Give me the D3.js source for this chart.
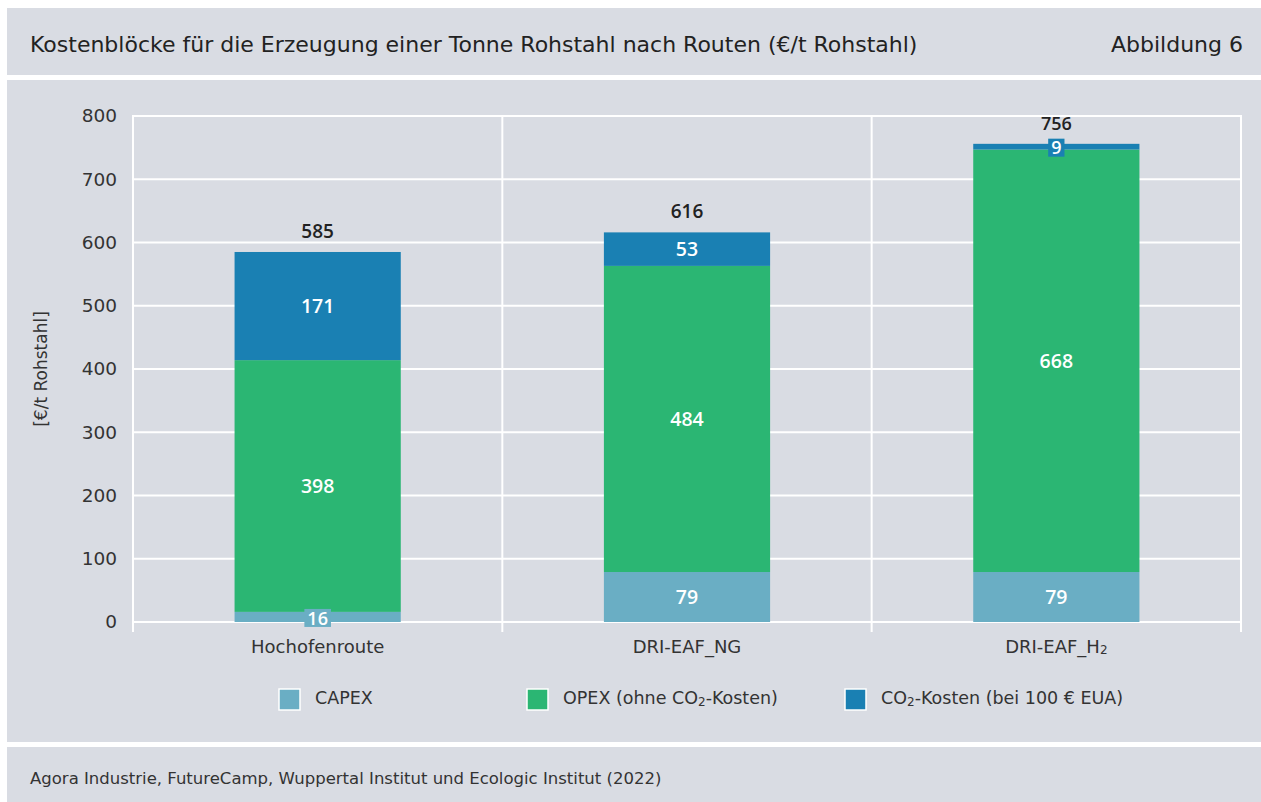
<!DOCTYPE html>
<html>
<head>
<meta charset="utf-8">
<script src="https://cdn.jsdelivr.net/npm/d3@7"></script>
<style>
  body { margin: 0; background: #fff; }
  svg { display: block; font-family: "DejaVu Sans", sans-serif; }
</style>
</head>
<body>
<div id="chart"></div>
<script>
// Data
const routes = ['Hochofenroute', 'DRI-EAF_NG', 'DRI-EAF_H2'];
const capex = [16, 79, 79];
const opex = [398, 484, 668];
const co2 = [171, 53, 9];
const totals = [585, 616, 756];
const yTicks = [0, 100, 200, 300, 400, 500, 600, 700, 800];
const seriesNames = ['CAPEX', 'OPEX', 'CO2'];

const W = 1261, H = 802;
const bg = '#d9dce3';
const colors = { CAPEX: '#6aaec4', OPEX: '#2bb673', CO2: '#1a80b3' };
const valueFont = '"Open Sans", sans-serif';

const svg = d3.select('#chart').append('svg')
    .attr('width', W).attr('height', H);

// Panels
svg.append('rect').attr('x', 7).attr('y', 8).attr('width', W - 7).attr('height', 67).attr('fill', bg);
svg.append('rect').attr('x', 7).attr('y', 80).attr('width', W - 7).attr('height', 662).attr('fill', bg);
svg.append('rect').attr('x', 7).attr('y', 747).attr('width', W - 7).attr('height', 55).attr('fill', bg);

// Title
svg.append('text').attr('x', 30).attr('y', 52)
    .attr('font-size', 22).attr('fill', '#222')
    .text('Kostenblöcke für die Erzeugung einer Tonne Rohstahl nach Routen (€/t Rohstahl)');
svg.append('text').attr('x', 1243).attr('y', 52)
    .attr('text-anchor', 'end').attr('font-size', 22).attr('fill', '#222')
    .text('Abbildung 6');

// Footer
svg.append('text').attr('x', 30).attr('y', 784)
    .attr('font-size', 16.5).attr('fill', '#333')
    .text('Agora Industrie, FutureCamp, Wuppertal Institut und Ecologic Institut (2022)');

// Scales
const plot = { left: 133, right: 1241, top: 116, bottom: 622 };
const x = d3.scaleBand().domain(routes).range([plot.left, plot.right]).paddingInner(0.55).paddingOuter(0.275);
const y = d3.scaleLinear().domain([0, 800]).range([plot.bottom, plot.top]);

// Stack
const rows = routes.map((r, i) => ({ route: r, CAPEX: capex[i], OPEX: opex[i], CO2: co2[i], total: totals[i] }));
const stack = d3.stack().keys(seriesNames)(rows);

// Grid
const grid = svg.append('g');
grid.selectAll('line.h').data(yTicks).join('line')
    .attr('x1', plot.left).attr('x2', plot.right)
    .attr('y1', d => y(d)).attr('y2', d => y(d))
    .attr('stroke', '#fff').attr('stroke-width', 2);
const step = x.step();
const bounds = [plot.left, ...routes.map(r => x(r) + x.bandwidth() / 2 + step / 2)];
grid.selectAll('line.v').data(bounds).join('line')
    .attr('x1', d => d).attr('x2', d => d)
    .attr('y1', plot.top - 1).attr('y2', plot.bottom + 10)
    .attr('stroke', '#fff').attr('stroke-width', 2);

// Y axis labels
const yAxis = svg.append('g')
    .attr('transform', `translate(${plot.left - 16},0)`)
    .call(d3.axisLeft(y).tickValues(yTicks).tickSize(0).tickPadding(0));
yAxis.select('.domain').remove();
yAxis.selectAll('text').attr('font-size', 18.5).attr('fill', '#333')
    .attr('font-family', '"DejaVu Sans", sans-serif');

svg.append('text')
    .attr('transform', `translate(47,${(plot.top + plot.bottom) / 2}) rotate(-90)`)
    .attr('text-anchor', 'middle').attr('font-size', 17).attr('fill', '#333')
    .text('[€/t Rohstahl]');

// X axis labels
const xAxis = svg.append('g')
    .attr('transform', `translate(0,${plot.bottom + 15})`)
    .call(d3.axisBottom(x).tickSize(0).tickPadding(0));
xAxis.select('.domain').remove();
xAxis.selectAll('text').attr('font-size', 18).attr('fill', '#333')
    .attr('font-family', '"DejaVu Sans", sans-serif')
    .attr('dy', '0.9em')
    .each(function(d) {
        if (d.endsWith('H2')) {
            const t = d3.select(this).text(d.slice(0, -1));
            t.append('tspan').attr('font-size', 12).attr('dy', '0.1em').text('2');
        }
    });

// Bars
const layers = svg.append('g').selectAll('g').data(stack).join('g')
    .attr('fill', d => colors[d.key]);
layers.selectAll('rect').data(d => d).join('rect')
    .attr('x', d => x(d.data.route))
    .attr('width', x.bandwidth())
    .attr('y', d => y(d[1]))
    .attr('height', d => y(d[0]) - y(d[1]));

// Segment labels
stack.forEach(layer => {
    layer.forEach(d => {
        const v = d[1] - d[0];
        const cx = x(d.data.route) + x.bandwidth() / 2;
        const cy = (y(d[0]) + y(d[1])) / 2;
        const small = y(d[0]) - y(d[1]) < 24;
        const g = svg.append('g');
        const t = g.append('text').attr('x', cx).attr('y', cy + (small ? 1.5 : 0))
            .attr('text-anchor', 'middle').attr('dy', '0.35em')
            .attr('font-family', valueFont)
            .attr('font-size', small ? 18 : 19.5).attr('font-weight', 600).attr('fill', '#fff')
            .text(v);
        if (small) {
            const bb = t.node().getBBox();
            g.insert('rect', 'text')
                .attr('x', bb.x - 3).attr('y', cy - 8)
                .attr('width', bb.width + 6).attr('height', 18)
                .attr('fill', colors[layer.key]);
        }
    });
});

// Totals
svg.append('g').selectAll('text').data(rows).join('text')
    .attr('x', d => x(d.route) + x.bandwidth() / 2)
    .attr('y', d => y(d.total) - (d.total > 700 ? 14 : 14))
    .attr('text-anchor', 'middle')
    .attr('font-family', valueFont)
    .attr('font-size', d => d.total > 700 ? 18 : 19).attr('font-weight', 600).attr('fill', '#222')
    .text(d => d.total);

// Legend
const legendItems = [
    { key: 'CAPEX', x: 279, parts: [['CAPEX', false]] },
    { key: 'OPEX', x: 527, parts: [['OPEX (ohne CO', false], ['2', true], ['-Kosten)', false]] },
    { key: 'CO2', x: 845, parts: [['CO', false], ['2', true], ['-Kosten (bei 100 € EUA)', false]] }
];
const legend = svg.append('g').attr('transform', 'translate(0,689)');
legendItems.forEach(it => {
    legend.append('rect').attr('x', it.x).attr('y', 0).attr('width', 21).attr('height', 21)
        .attr('fill', colors[it.key]).attr('stroke', '#fff').attr('stroke-width', 1.5);
    const t = legend.append('text').attr('x', it.x + 36).attr('y', 17)
        .attr('font-size', 17.5).attr('fill', '#333');
    it.parts.forEach(([s, sub]) => {
        if (sub) {
            t.append('tspan').attr('font-size', 12).attr('dy', 2).text(s);
        } else {
            t.append('tspan').attr('dy', t.selectAll('tspan').size() ? -2 : 0).text(s);
        }
    });
});
</script>
</body>
</html>
